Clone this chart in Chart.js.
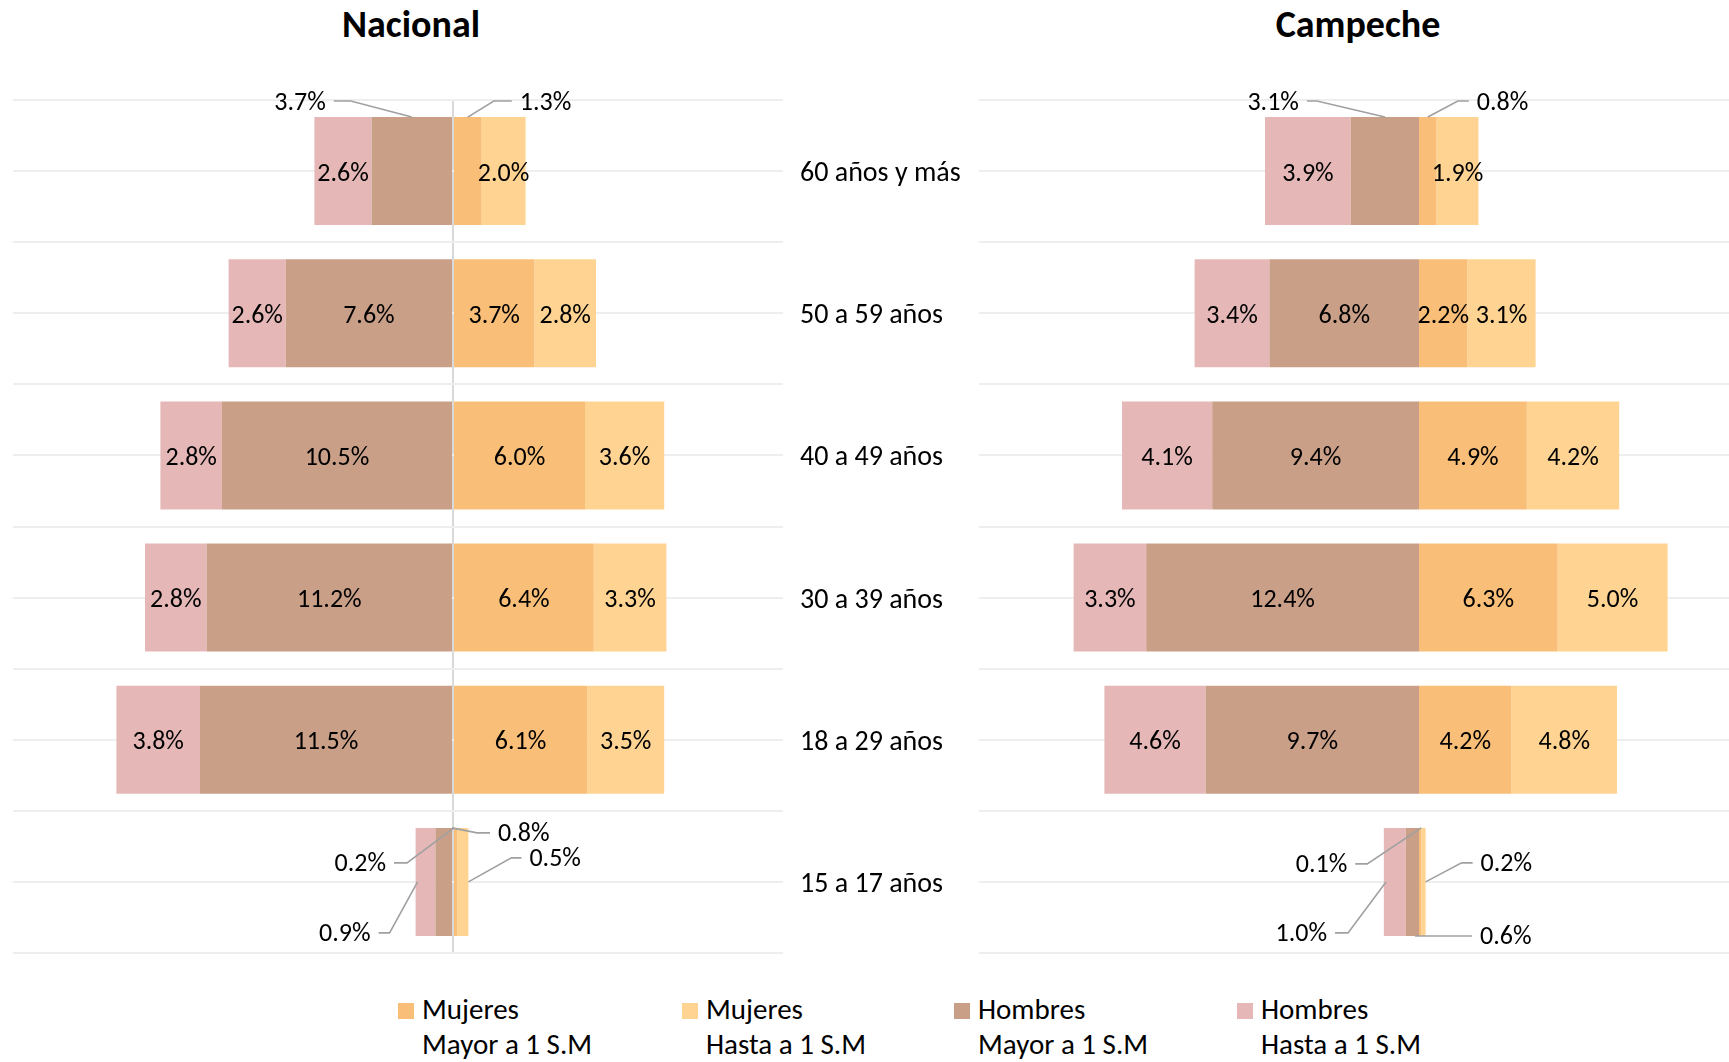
<!DOCTYPE html>
<html lang="es">
<head>
<meta charset="utf-8">
<title>Nacional y Campeche</title>
<script src="https://cdn.jsdelivr.net/npm/chart.js@4.4.1/dist/chart.umd.min.js"></script>
<style>
  html, body { margin: 0; padding: 0; background: #fff; }
  body { width: 1729px; height: 1062px; position: relative; overflow: hidden;
         font-family: Carlito, Calibri, Lato, sans-serif; color: #000; }
  .title { position: absolute; top: 3px; font-weight: bold; font-size: 38px; line-height: 42px;
           transform: translateX(-50%); white-space: nowrap; }
  #boxN { position: absolute; left: 13px; top: 60px; width: 960px; height: 901px; }
  #boxC { position: absolute; left: 979px; top: 60px; width: 750px; height: 901px; }
  .legend-item { position: absolute; top: 992px; font-size: 29px; line-height: 35px; white-space: nowrap; }
  .legend-item .sw { position: absolute; left: -24px; top: 11px; width: 16px; height: 16px; }
</style>
</head>
<body>
<div class="title" style="left:411px">Nacional</div>
<div class="title" style="left:1358px">Campeche</div>
<div id="boxN"><canvas id="chartN"></canvas></div>
<div id="boxC"><canvas id="chartC"></canvas></div>
<div id="legend"></div>

<script>
const categories = ['60 años y más', '50 a 59 años', '40 a 49 años', '30 a 39 años', '18 a 29 años', '15 a 17 años'];
const seriesNames = [['Mujeres', 'Mayor a 1 S.M'], ['Mujeres', 'Hasta a 1 S.M'], ['Hombres', 'Mayor a 1 S.M'], ['Hombres', 'Hasta a 1 S.M']];

const nacionalMujeresMayor = [1.3, 3.7, 6.0, 6.4, 6.1, 0.2];
const nacionalMujeresHasta = [2.0, 2.8, 3.6, 3.3, 3.5, 0.5];
const nacionalHombresMayor = [3.7, 7.6, 10.5, 11.2, 11.5, 0.8];
const nacionalHombresHasta = [2.6, 2.6, 2.8, 2.8, 3.8, 0.9];

const campecheMujeresMayor = [0.8, 2.2, 4.9, 6.3, 4.2, 0.1];
const campecheMujeresHasta = [1.9, 3.1, 4.2, 5.0, 4.8, 0.2];
const campecheHombresMayor = [3.1, 6.8, 9.4, 12.4, 9.7, 0.6];
const campecheHombresHasta = [3.9, 3.4, 4.1, 3.3, 4.6, 1.0];

const colors = ['#F9BF78', '#FFD392', '#C99F88', '#E5B8B7'];
const FONT = 'Carlito, Calibri, Lato, sans-serif';

// labels drawn outside the bar with a leader line (ds: 0 MM, 1 MH, 2 HM, 3 HH)
const calloutsN = [
  { cat: 0, ds: 2, fx: 0.5, fy: 'top', ex: -61, ey: -16, len: 17 },
  { cat: 0, ds: 0, fx: 0.5, fy: 'top', ex: 26, ey: -16, len: 18 },
  { cat: 5, ds: 0, fx: 0, fy: 'top', ex: -47, ey: 35, len: 13 },
  { cat: 5, ds: 2, fx: 0, fy: 'top', ex: 25, ey: 5, len: 13 },
  { cat: 5, ds: 3, fx: 0.9, fy: 'mid', ex: -28, ey: 51, len: 11 },
  { cat: 5, ds: 1, fx: 1, fy: 'mid', ex: 43, ey: -24, len: 10 }
];
const calloutsC = [
  { cat: 0, ds: 2, fx: 0.5, fy: 'top', ex: -68, ey: -16, len: 10 },
  { cat: 0, ds: 0, fx: 0.5, fy: 'top', ex: 30, ey: -16, len: 11 },
  { cat: 5, ds: 0, fx: 1, fy: 'top', ex: -54, ey: 36, len: 12 },
  { cat: 5, ds: 1, fx: 1, fy: 'mid', ex: 36, ey: -19, len: 11 },
  { cat: 5, ds: 3, fx: 0.9, fy: 'mid', ex: -38, ey: 51, len: 13 },
  { cat: 5, ds: 2, fx: 0.3, fy: 'bottom', ex: 45, ey: 0, len: 12 }
];

const valueLabels = {
  id: 'valueLabels',
  afterDatasetsDraw(chart, args, opts) {
    const ctx = chart.ctx;
    const callouts = opts.callouts || [];
    ctx.save();
    ctx.font = '26px ' + FONT;
    ctx.fillStyle = '#000';
    ctx.textBaseline = 'middle';
    chart.data.datasets.forEach((ds, di) => {
      const meta = chart.getDatasetMeta(di);
      meta.data.forEach((bar, i) => {
        const text = Math.abs(ds.data[i]).toFixed(1) + '%';
        const p = bar.getProps(['x', 'y', 'base', 'height'], true);
        const c = callouts.find(o => o.cat === i && o.ds === di);
        if (!c) {
          ctx.textAlign = 'center';
          ctx.fillText(text, (p.x + p.base) / 2, p.y + 3);
          return;
        }
        const ax = p.base + (p.x - p.base) * c.fx;
        const ay = c.fy === 'top' ? p.y - p.height / 2 : c.fy === 'bottom' ? p.y + p.height / 2 : p.y;
        const ex = ax + c.ex, ey = ay + c.ey;
        const side = c.ex < 0 ? -1 : 1;
        const lx = ex + side * c.len;
        ctx.strokeStyle = '#a0a0a0';
        ctx.lineWidth = 1.6;
        ctx.beginPath();
        ctx.moveTo(ax, ay);
        ctx.lineTo(ex, ey);
        ctx.lineTo(lx, ey);
        ctx.stroke();
        ctx.textAlign = side < 0 ? 'right' : 'left';
        ctx.fillText(text, lx + side * 8, ey + 2);
      });
    });
    ctx.restore();
  }
};

function buildDatasets(mm, mh, hm, hh) {
  const values = [mm, mh, hm.map(v => -v), hh.map(v => -v)];
  return values.map((data, i) => ({
    label: seriesNames[i].join(' '),
    data: data,
    backgroundColor: colors[i],
    borderWidth: 0,
    categoryPercentage: 1,
    barPercentage: 0.76
  }));
}

function makeChart(canvasId, datasets, xMax, showLabels, showZero, callouts) {
  return new Chart(document.getElementById(canvasId), {
    type: 'bar',
    data: { labels: categories, datasets: datasets },
    plugins: [valueLabels],
    options: {
      indexAxis: 'y',
      responsive: true,
      maintainAspectRatio: false,
      animation: false,
      layout: { padding: { top: 40, bottom: 8, left: 0, right: 0 } },
      scales: {
        x: {
          type: 'linear',
          stacked: true,
          min: -20,
          max: xMax,
          display: showZero,
          ticks: { display: false, stepSize: 5 },
          border: { display: false },
          grid: {
            drawTicks: false,
            lineWidth: 2,
            color: ctx => (ctx.tick && ctx.tick.value === 0) ? '#d9d9d9' : 'rgba(0,0,0,0)'
          }
        },
        y: {
          type: 'category',
          stacked: true,
          position: 'right',
          offset: true,
          border: { display: false },
          grid: { offset: true, drawTicks: false, color: '#eeeeee', lineWidth: 2 },
          ticks: {
            display: showLabels,
            padding: 17,
            labelOffset: 3,
            color: '#000',
            font: { family: FONT, size: 28 }
          },
          afterFit(scale) {
            scale.width = showLabels ? 190 : 0;
            scale.paddingTop = 0;
            scale.paddingBottom = 0;
          }
        },
        y2: {
          type: 'category',
          position: 'left',
          offset: true,
          border: { display: false },
          grid: { offset: false, drawTicks: false, color: '#eeeeee', lineWidth: 2 },
          ticks: { display: false },
          afterFit(scale) { scale.width = 0; }
        }
      },
      plugins: {
        legend: { display: false },
        tooltip: { enabled: false },
        valueLabels: { callouts: callouts }
      }
    }
  });
}

document.addEventListener('DOMContentLoaded', () => {
  makeChart('chartN',
    buildDatasets(nacionalMujeresMayor, nacionalMujeresHasta, nacionalHombresMayor, nacionalHombresHasta),
    15, true, true, calloutsN);
  makeChart('chartC',
    buildDatasets(campecheMujeresMayor, campecheMujeresHasta, campecheHombresMayor, campecheHombresHasta),
    14.09, false, false, calloutsC);

  // legend below both charts
  const legendX = [422, 706, 978, 1261];
  const legend = document.getElementById('legend');
  seriesNames.forEach((name, i) => {
    const item = document.createElement('div');
    item.className = 'legend-item';
    item.style.left = legendX[i] + 'px';
    item.innerHTML = '<span class="sw" style="background:' + colors[i] + '"></span>' + name[0] + '<br>' + name[1];
    legend.appendChild(item);
  });
});
</script>
</body>
</html>
